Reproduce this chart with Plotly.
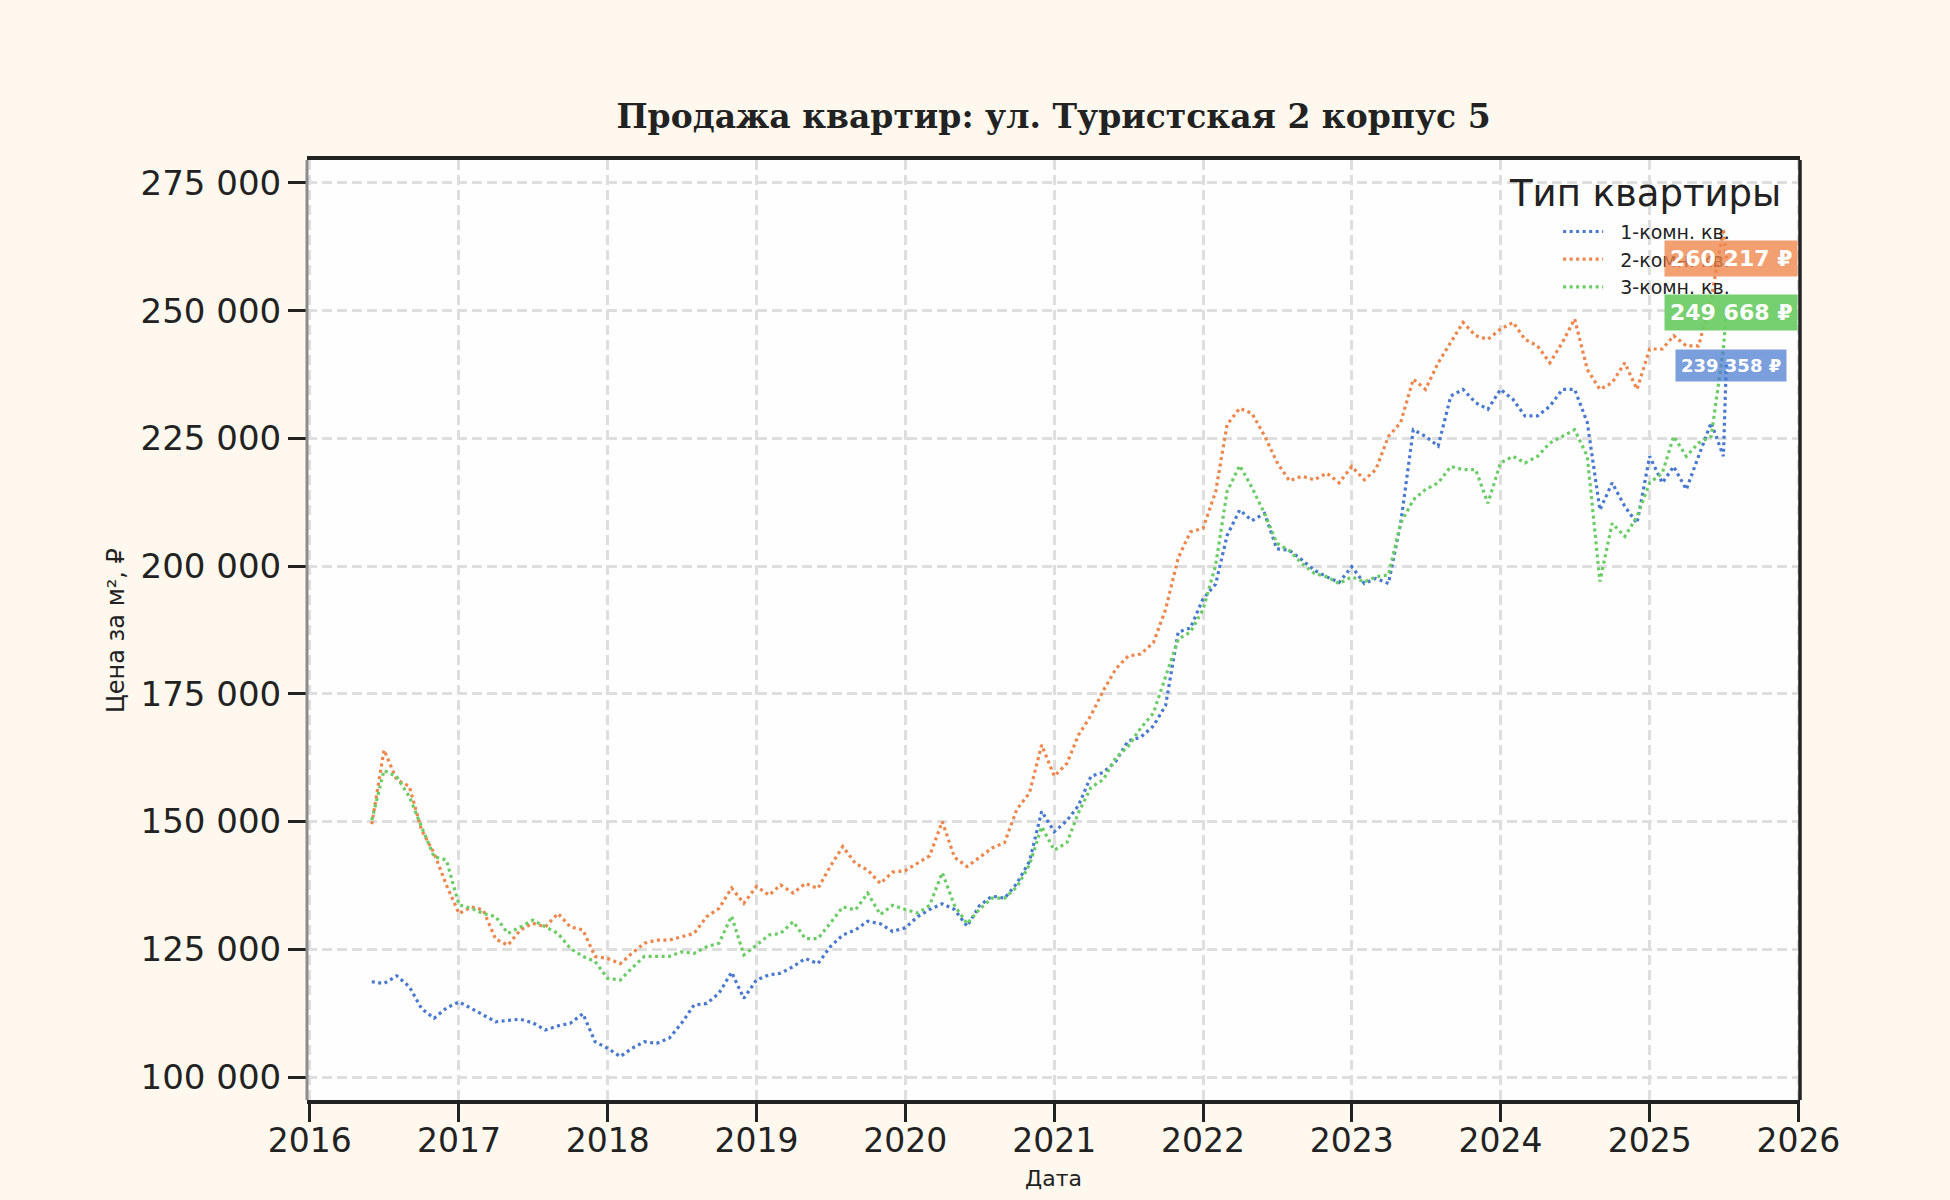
import pandas as pd
import plotly.graph_objects as go

# monthly readings, Jun 2016 .. Jul 2025, plus the last observation
months = pd.date_range("2016-06-01", "2025-07-01", freq="MS")
dates = list(months) + [pd.Timestamp("2025-07-08")]

series_names = ["1-комн. кв.", "2-комн. кв.", "3-комн. кв."]
series_colors = ["#4878D0", "#EE854A", "#6ACC64"]
label_colors = ["rgba(72,120,208,0.72)", "rgba(238,133,74,0.78)", "rgba(106,204,100,0.92)"]

price_1k = [
    118650, 118300, 119800, 117700, 113400, 111500, 113500,
    114700, 113400, 112100, 110800, 111100, 111300, 110600, 109200, 110000, 110500, 112400, 106900,
    105600, 104000, 105600, 106900, 106600, 107600, 110500, 114100, 114400, 116400, 120500, 115400,
    119000, 120000, 120300, 121600, 123200, 122200, 125500, 127800, 128800, 130500, 130000, 128500,
    129200, 131400, 132800, 133900, 132800, 129500, 133500, 135400, 135000, 137900, 142200, 152000,
    148000, 150200, 153100, 158900, 159600, 161800, 165800, 166500, 168700, 172700, 187100, 187900,
    193600, 196500, 206000, 211000, 208900, 210300, 203400, 203100, 201200, 199200, 197900, 196800,
    199900, 196600, 197600, 196600, 208400, 226700, 225400, 223500, 233300, 234600, 232000, 230700,
    234600, 232600, 229400, 229400, 231300, 234600, 234600, 228100, 211000, 216300, 211700, 208400,
    221500, 216300, 219500, 215000, 221500, 228100, 221500,
    239358,
]

price_2k = [
    149500, 164000, 158200, 156900, 148400, 143800, 137600,
    132000, 133300, 132700, 127000, 125800, 128800, 130100, 129400, 132000, 129400, 128800, 123600,
    123200, 122200, 124200, 126200, 126800, 126800, 127500, 128100, 131400, 133000, 137000, 134000,
    137300, 135600, 137600, 136000, 137900, 136900, 141200, 145100, 141800, 140500, 137900, 140100,
    140400, 141900, 143300, 150000, 143000, 141200, 143000, 144800, 145900, 152400, 155600, 165000,
    158900, 161400, 166900, 170800, 175600, 179900, 182400, 182800, 185000, 191500, 201600, 206700,
    207400, 214600, 227700, 230900, 229900, 225500, 220400, 216700, 217600, 216900, 218200, 216300,
    219500, 216900, 218900, 225400, 228100, 236600, 234600, 239800, 243800, 247700, 245100, 244400,
    246400, 247700, 244400, 243100, 239800, 243800, 248400, 238500, 234600, 235900, 239800, 234600,
    242500, 242500, 245100, 243100, 243100, 252300, 266000,
    260217,
]

price_3k = [
    150300, 160000, 158800, 154900, 149000, 143100, 142500,
    133700, 133000, 132000, 131400, 128100, 129400, 130700, 129400, 128100, 125200, 123600, 122600,
    119300, 119000, 121300, 123600, 123600, 123600, 124500, 124200, 125500, 126200, 131500, 123900,
    125800, 127800, 128100, 130400, 127100, 127100, 130100, 133300, 132700, 136000, 131800, 133600,
    132800, 132100, 133600, 140000, 133600, 130000, 132800, 135000, 135000, 137200, 141500, 149000,
    144400, 145900, 151700, 156700, 158200, 162500, 164700, 168300, 171200, 178400, 185700, 187100,
    191500, 200200, 214600, 219700, 215400, 210300, 204500, 203000, 200500, 198600, 197900, 196600,
    197900, 196900, 197900, 198300, 208400, 213000, 215000, 216300, 219500, 218900, 218900, 212300,
    220200, 221500, 220200, 221500, 224100, 225400, 226700, 221500, 197000, 208400, 205800, 209700,
    216300, 218200, 225400, 221500, 224100, 225400, 242500,
    249668,
]

all_prices = [price_1k, price_2k, price_3k]
label_sizes = [18, 22, 22]

fig = go.Figure()

for name, color, prices in zip(series_names, series_colors, all_prices):
    fig.add_trace(go.Scatter(
        x=dates, y=prices, name="\u00a0\u00a0" + name, mode="lines",
        line=dict(color=color, width=3.2, dash="3px,3.5px"),
    ))

# last-value badges
for prices, bg, fs in zip(all_prices, label_colors, label_sizes):
    last = prices[-1]
    fig.add_annotation(
        x=dates[-1], y=last, xref="x", yref="y", xshift=5,
        text=f"{last:,}".replace(",", " ") + " ₽",
        showarrow=False, xanchor="center", yanchor="middle",
        bgcolor=bg, borderpad=5,
        font=dict(family="DejaVu Sans", size=fs, color="white", weight="bold"),
    )

# legend title, centred over the entries
fig.add_annotation(
    text="Тип квартиры", xref="paper", yref="paper", x=0.896, y=0.964,
    xanchor="center", yanchor="middle", showarrow=False,
    font=dict(family="DejaVu Sans", size=37, color="#222222"),
)

fig.add_annotation(
    text="Цена за м², ₽", xref="paper", yref="paper", x=-0.128, y=0.5,
    textangle=-90, xanchor="center", yanchor="middle", showarrow=False,
    font=dict(family="DejaVu Sans", size=24, color="#222222"),
)
fig.add_annotation(
    text="Дата", xref="paper", yref="paper", x=0.5, y=-0.083,
    xanchor="center", yanchor="middle", showarrow=False,
    font=dict(family="DejaVu Sans", size=22, color="#222222"),
)

# spines: left grey, right black
fig.add_shape(type="line", xref="paper", yref="paper", x0=0, x1=0, y0=0, y1=1,
              line=dict(color="#8C8C8C", width=3))
fig.add_shape(type="line", xref="paper", yref="paper", x0=1, x1=1, y0=0, y1=1,
              line=dict(color="#222222", width=3.5))

fig.update_layout(
    width=1950, height=1200,
    paper_bgcolor="#FFF8EE", plot_bgcolor="#FEFEFE",
    margin=dict(l=307, r=150, t=160, b=100),
    separators=", ",
    title=dict(
        text="Продажа квартир: ул. Туристская 2 корпус 5",
        x=0.5, xref="paper", xanchor="center", y=0.903, yanchor="middle",
        font=dict(family="DejaVu Serif", size=33, color="#222222", weight="bold"),
    ),
    showlegend=True,
    legend=dict(
        x=0.838, y=0.944, xanchor="left", yanchor="top",
        bgcolor="rgba(0,0,0,0)", borderwidth=0, itemwidth=40,
        font=dict(family="DejaVu Sans", size=19, color="#222222"),
    ),
    font=dict(family="DejaVu Sans", color="#222222"),
)

fig.update_xaxes(
    type="date", range=["2015-12-25", "2026-01-05"],
    dtick="M12", tick0="2016-01-01", tickformat="%Y",
    ticks="outside", ticklen=18, tickwidth=3, tickcolor="#222222",
    ticklabelstandoff=-9,
    tickfont=dict(family="DejaVu Sans", size=33, color="#222222"),
    showgrid=True, gridcolor="#DEDEDE", gridwidth=2.5, griddash="10px,5px",
    showline=True, linecolor="#222222", linewidth=3.5, mirror=True,
    zeroline=False,
)
fig.update_yaxes(
    range=[95500, 279500], dtick=25000, tick0=0, tickformat=",d",
    ticks="outside", ticklen=18, tickwidth=3, tickcolor="#222222",
    tickfont=dict(family="DejaVu Sans", size=34, color="#222222"),
    showgrid=True, gridcolor="#DEDEDE", gridwidth=2.5, griddash="10px,5px",
    showline=False, zeroline=False,
)

fig.write_html("out.html", config={"displayModeBar": False},
               post_script="document.body.style.margin='0';")
